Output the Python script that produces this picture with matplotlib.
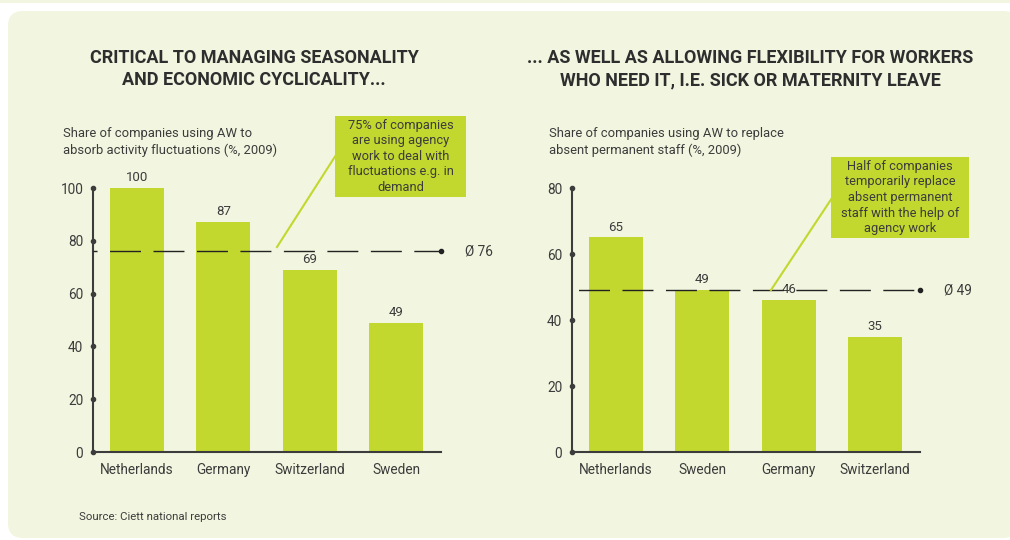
import matplotlib
matplotlib.use("Agg")
import matplotlib.pyplot as plt
from matplotlib.patches import FancyBboxPatch, Rectangle

plt.rcParams['font.family'] = ['Roboto', 'DejaVu Sans']

W, H = 1010, 540
BG = '#f2f5df'
GREEN = '#c2d82e'
DARK = '#3c3c3c'

# data
left_cats = ['Netherlands', 'Germany', 'Switzerland', 'Sweden']
left_vals = [100, 87, 69, 49]
left_avg = 76
right_cats = ['Netherlands', 'Sweden', 'Germany', 'Switzerland']
right_vals = [65, 49, 46, 35]
right_avg = 49


def fx(x):
    return x / W


def fy(y):
    return 1 - y / H


fig = plt.figure(figsize=(W / 100, H / 100), dpi=100)
fig.patch.set_facecolor('white')

# background panels
fig.patches.append(Rectangle((0, fy(3)), 1, 3 / H, transform=fig.transFigure,
                             facecolor=BG, edgecolor='none', zorder=-2))
fig.patches.append(FancyBboxPatch((fx(8), fy(538)), fx(1010), (538 - 11) / H,
                                  boxstyle='round,pad=0,rounding_size=0.015',
                                  transform=fig.transFigure, facecolor=BG,
                                  edgecolor='none', mutation_aspect=W / H, zorder=-2))


def panel(x0, x1, ymax, cats, vals, avg, ticks, dash_off):
    ax = fig.add_axes([fx(x0), fy(452), fx(x1 - x0), (452 - 188) / H])
    ax.set_facecolor('none')
    xs = range(len(cats))
    ax.bar(xs, vals, width=0.625, color=GREEN, zorder=2)
    for x, v in zip(xs, vals):
        ax.text(x, v + ymax * 0.015, str(v), ha='center', va='bottom',
                fontsize=9.5, color=DARK)
    ax.set_xlim(-0.51, 3.52)
    ax.set_ylim(0, ymax)
    ax.set_yticks(ticks)
    ax.set_xticks(list(xs))
    ax.set_xticklabels(cats)
    ax.tick_params(axis='both', length=0, labelsize=9.8, colors=DARK, pad=8)
    ax.tick_params(axis='y', pad=7)
    for s in ['top', 'right']:
        ax.spines[s].set_visible(False)
    for s in ['left', 'bottom']:
        ax.spines[s].set_color(DARK)
        ax.spines[s].set_linewidth(1.5)
    ax.plot([-0.51] * len(ticks), ticks, 'o', ms=3, color=DARK, clip_on=False, zorder=4)
    ax.plot([-0.51, 3.52], [avg, avg], color='#222222', lw=1.0,
            linestyle=(dash_off, (22.3, 9.0)), zorder=3, clip_on=False)
    ax.plot([3.52], [avg], 'o', ms=3, color='#222222', clip_on=False, zorder=4)
    ax.text(3.8, avg, '\u00d8 ' + str(avg), va='center', ha='left',
            fontsize=9.8, color=DARK)
    return ax


axl = panel(93, 441, 100, left_cats, left_vals, left_avg, [0, 20, 40, 60, 80, 100], 19.4)
axr = panel(572, 920, 80, right_cats, right_vals, right_avg, [0, 20, 40, 60, 80], 26.6)

# titles
for cx, lines in [(254, ['CRITICAL TO MANAGING SEASONALITY', 'AND ECONOMIC CYCLICALITY...']),
                  (750, ['... AS WELL AS ALLOWING FLEXIBILITY FOR WORKERS',
                         'WHO NEED IT, I.E. SICK OR MATERNITY LEAVE'])]:
    for i, t in enumerate(lines):
        fig.text(fx(cx), fy(58 + 22 * i), t, ha='center', va='center',
                 fontsize=13, fontweight='bold', color='#2e2e2e')

fig.text(fx(63), fy(142), 'Share of companies using AW to\nabsorb activity fluctuations (%, 2009)',
         ha='left', va='center', fontsize=9.4, color=DARK, linespacing=1.3)
fig.text(fx(549), fy(142), 'Share of companies using AW to replace\nabsent permanent staff (%, 2009)',
         ha='left', va='center', fontsize=9.4, color=DARK, linespacing=1.3)

# callouts
def callout(x0, y0, x1, y1, text, line):
    fig.patches.append(Rectangle((fx(x0), fy(y1)), fx(x1 - x0), (y1 - y0) / H,
                                 transform=fig.transFigure, facecolor=GREEN,
                                 edgecolor='none', zorder=5))
    fig.text(fx((x0 + x1) / 2), fy((y0 + y1) / 2), text, ha='center', va='center',
             fontsize=9.3, color=DARK, linespacing=1.25, zorder=6)
    fig.lines.append(plt.Line2D([fx(line[0]), fx(line[2])], [fy(line[1]), fy(line[3])],
                                transform=fig.transFigure, color=GREEN, lw=1.5, zorder=5))


callout(335, 116, 466, 197,
        '75% of companies\nare using agency\nwork to deal with\nfluctuations e.g. in\ndemand',
        (336, 155, 277, 247))
callout(831, 157, 969, 238,
        'Half of companies\ntemporarily replace\nabsent permanent\nstaff with the help of\nagency work',
        (832, 198, 771, 290))

fig.text(fx(79), fy(517), 'Source: Ciett national reports', ha='left', va='center',
         fontsize=8.2, color=DARK)

fig.savefig('out.png', dpi=100, facecolor=fig.get_facecolor())
